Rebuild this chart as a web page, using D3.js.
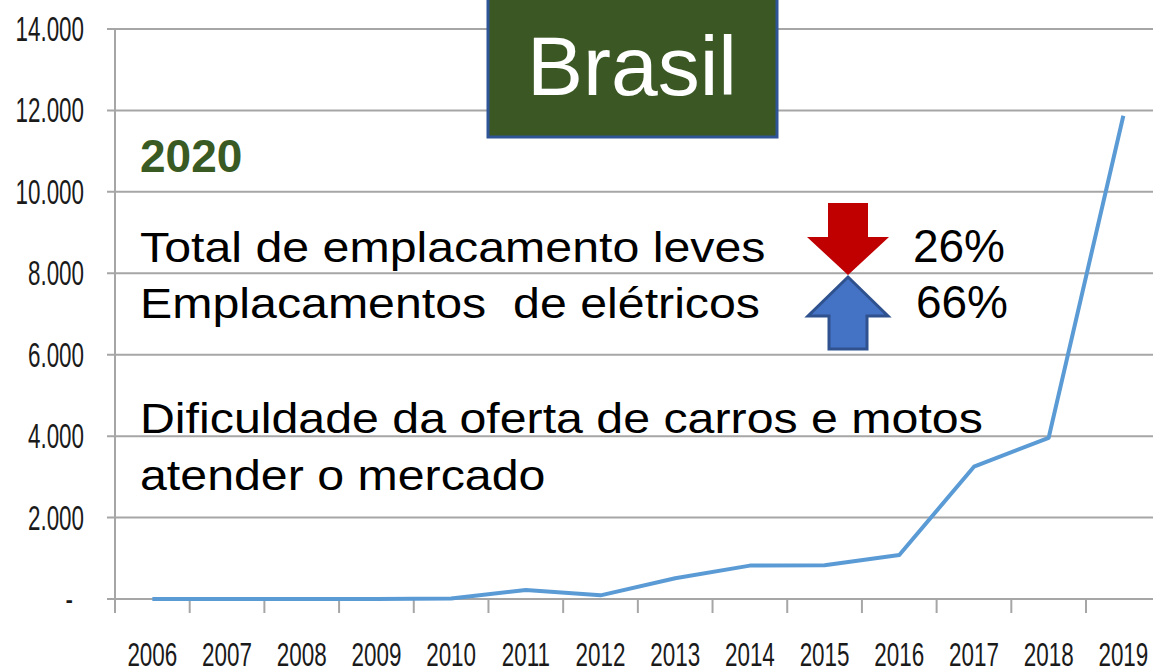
<!DOCTYPE html>
<html>
<head>
<meta charset="utf-8">
<script src="https://cdn.jsdelivr.net/npm/d3@7"></script>
<style>
  body { margin: 0; background: #fff; }
  svg { display: block; }
</style>
</head>
<body>
<svg id="chart"></svg>
<script>
const years = ["2006","2007","2008","2009","2010","2011","2012","2013","2014","2015","2016","2017","2018","2019"];
const emplacamentos = [0, 0, 0, 0, 10, 220, 90, 510, 820, 830, 1080, 3250, 3960, 11870];
const yTicks = [0, 2000, 4000, 6000, 8000, 10000, 12000, 14000];

const textLines = [
    "Total de emplacamento leves",
    "Emplacamentos  de elétricos",
    "Dificuldade da oferta de carros e motos",
    "atender o mercado"
];
const percentLabels = ["26%", "66%"];

const width = 1153, height = 671;
const svg = d3.select("#chart").attr("width", width).attr("height", height);

const x = d3.scaleBand().domain(years).range([115, 1160.7]);
const y = d3.scaleLinear().domain([0, 14000]).range([599, 29]);

const br = d3.formatLocale({ decimal: ",", thousands: ".", grouping: [3], currency: ["R$", ""] });
const fmt = br.format(",d");

// gridlines
svg.append("g").selectAll("line")
    .data(yTicks)
    .join("line")
    .attr("x1", 107).attr("x2", width)
    .attr("y1", d => y(d)).attr("y2", d => y(d))
    .attr("stroke", "#a6a6a6")
    .attr("stroke-width", 2);

// y axis line
svg.append("line")
    .attr("x1", 115).attr("x2", 115)
    .attr("y1", y(14000)).attr("y2", 613)
    .attr("stroke", "#a6a6a6").attr("stroke-width", 2);

// x ticks between categories
svg.append("g").selectAll("line")
    .data(years.slice(1))
    .join("line")
    .attr("x1", d => x(d)).attr("x2", d => x(d))
    .attr("y1", y(0)).attr("y2", 613)
    .attr("stroke", "#a6a6a6").attr("stroke-width", 2);

// y labels (condensed look)
svg.append("g").selectAll("text")
    .data(yTicks)
    .join("text")
    .attr("transform", d => `translate(${d === 0 ? 73 : 84},${y(d) + 12}) scale(0.64,1)`)
    .attr("text-anchor", "end")
    .attr("font-family", "Liberation Sans, Arial, sans-serif")
    .attr("font-size", 35)
    .attr("fill", "#1a1a1a")
    .text(d => d === 0 ? "-" : fmt(d));

// x labels
svg.append("g").selectAll("text")
    .data(years)
    .join("text")
    .attr("transform", d => `translate(${x(d) + x.bandwidth() / 2},666) scale(0.66,1)`)
    .attr("text-anchor", "middle")
    .attr("font-family", "Liberation Sans, Arial, sans-serif")
    .attr("font-size", 34)
    .attr("fill", "#1a1a1a")
    .text(d => d);

// line
const line = d3.line()
    .x((d, i) => x(years[i]) + x.bandwidth() / 2)
    .y(d => y(d));

svg.append("path")
    .datum(emplacamentos)
    .attr("d", line)
    .attr("fill", "none")
    .attr("stroke", "#5b9bd5")
    .attr("stroke-width", 4)
    .attr("stroke-linejoin", "round");

// title box
svg.append("rect")
    .attr("x", 488).attr("y", -5)
    .attr("width", 289).attr("height", 142)
    .attr("fill", "#3a5724")
    .attr("stroke", "#2f5597")
    .attr("stroke-width", 3);

svg.append("text")
    .attr("x", 632).attr("y", 95)
    .attr("text-anchor", "middle")
    .attr("font-family", "Liberation Sans, Arial, sans-serif")
    .attr("font-size", 84)
    .attr("fill", "#fff")
    .text("Brasil");

svg.append("text")
    .attr("x", 140).attr("y", 172)
    .attr("font-family", "Liberation Sans, Arial, sans-serif")
    .attr("font-size", 46)
    .attr("font-weight", "bold")
    .attr("fill", "#3a5a23")
    .text("2020");

// body text, slightly stretched horizontally like the slide
const lineY = [262, 318, 433, 490];
svg.append("g").selectAll("text")
    .data(textLines)
    .join("text")
    .attr("transform", (d, i) => `translate(140,${lineY[i]}) scale(1.15,1)`)
    .attr("font-family", "Liberation Sans, Arial, sans-serif")
    .attr("font-size", 42)
    .attr("fill", "#000")
    .style("white-space", "pre")
    .text(d => d);

svg.append("g").selectAll("text")
    .data(percentLabels)
    .join("text")
    .attr("x", (d, i) => i === 0 ? 959 : 962)
    .attr("y", (d, i) => lineY[i])
    .attr("text-anchor", "middle")
    .attr("font-family", "Liberation Sans, Arial, sans-serif")
    .attr("font-size", 46)
    .attr("fill", "#000")
    .text(d => d);

// arrows
const downArrow = [[828,203],[868,203],[868,237],[889,237],[848,275],[807,237],[828,237]];
svg.append("polygon")
    .attr("points", downArrow.map(p => p.join(",")).join(" "))
    .attr("fill", "#c00000");

const upArrow = [[848,277],[888,316],[867,316],[867,349],[829,349],[829,316],[808,316]];
svg.append("polygon")
    .attr("points", upArrow.map(p => p.join(",")).join(" "))
    .attr("fill", "#4472c4")
    .attr("stroke", "#2f528f")
    .attr("stroke-width", 3)
    .attr("stroke-linejoin", "miter");
</script>
</body>
</html>
